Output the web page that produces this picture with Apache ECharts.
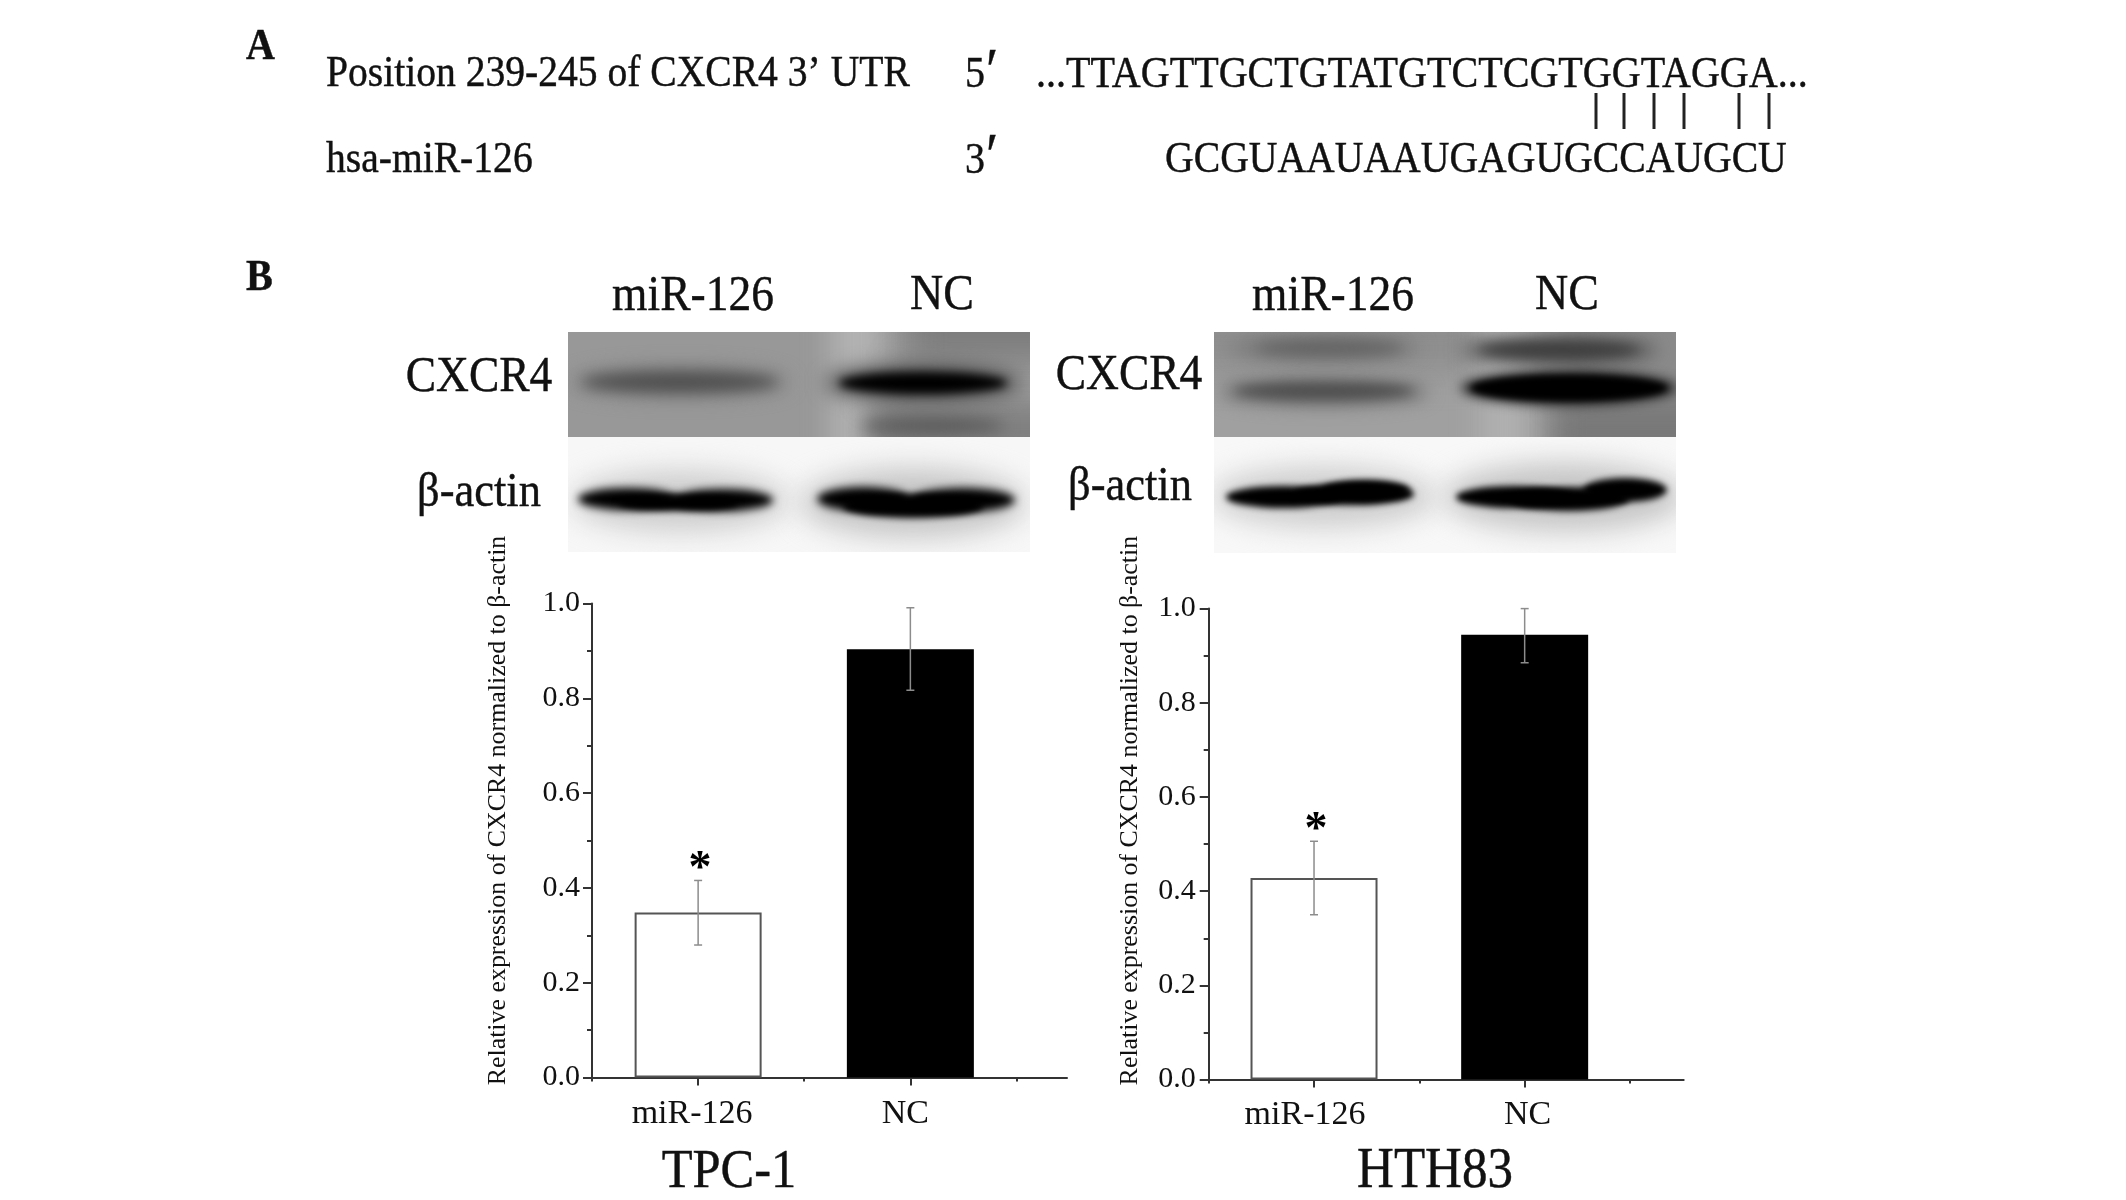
<!DOCTYPE html>
<html>
<head>
<meta charset="utf-8">
<title>CXCR4 miR-126</title>
<style>
  html, body { margin: 0; padding: 0; background: #fff; }
  #main { width: 2126px; height: 1200px; }
</style>
<script src="https://cdn.jsdelivr.net/npm/echarts@6/dist/echarts.min.js"></script>
</head>
<body>
<div id="main"></div>
<script>
// values
var groups = ['miR-126', 'NC']
var groupPos = [0.5, 1.5]
var tpcValues = [0.348, 0.9035]
var tpcLow = [0.2795, 0.817]
var tpcHigh = [0.4157, 0.991]
var hthValues = [0.428, 0.9446]
var hthLow = [0.35, 0.885]
var hthHigh = [0.506, 1.0]
var barFills = ['#ffffff', '#000000']
var barEdges = ['#555555', '#000000']
var significant = [true, false]

var serif = '"Liberation Serif", "Times New Roman", serif'
var yName = 'Relative expression of CXCR4 normalized to \u03b2-actin'

// makes one blot picture on a spare canvas: lanes first, then blurred bands
function blot(w, h, bg, lanes, bands) {
  var c = document.createElement('canvas')
  c.width = w
  c.height = h
  var ctx = c.getContext('2d')
  ctx.fillStyle = bg
  ctx.fillRect(0, 0, w, h)
  lanes.forEach(function (l) {
    ctx.filter = 'blur(' + l[5] + 'px)'
    ctx.fillStyle = l[4]
    ctx.fillRect(l[0], l[1], l[2], l[3])
  })
  bands.forEach(function (b) {
    ctx.filter = 'blur(' + b[5] + 'px)'
    ctx.fillStyle = b[4]
    ctx.beginPath()
    ctx.ellipse(b[0], b[1], b[2], b[3], 0, 0, Math.PI * 2)
    ctx.fill()
  })
  ctx.filter = 'none'
  return c
}

var blotLeftTop = blot(462, 105, '#a0a0a0', [
  [-40, -40, 345, 190, '#989898', 16],
  [262, -40, 55, 190, '#b2b2b2', 14],
  [335, -40, 170, 70, '#7c7c7c', 18],
  [300, 70, 200, 70, '#808080', 14]
], [
  [112, 50, 108, 14, '#7a7a7a', 10],
  [112, 50, 98, 10, '#505050', 7],
  [355, 51, 98, 18, '#505050', 10],
  [355, 51, 84, 11, '#000000', 5],
  [365, 94, 72, 9, '#5a5a5a', 8]
])
var blotLeftBottom = blot(462, 115, '#f7f7f7', [], [
  [112, 64, 108, 30, '#cccccc', 14],
  [345, 66, 112, 34, '#c4c4c4', 14],
  [60, 62, 50, 11, '#000000', 4],
  [155, 63, 50, 11, '#000000', 4],
  [110, 66, 60, 8, '#000000', 3],
  [295, 62, 46, 12, '#000000', 4],
  [395, 63, 52, 12, '#000000', 4],
  [345, 69, 70, 12, '#000000', 3]
])
var blotRightTop = blot(462, 105, '#a0a0a0', [
  [-40, -40, 310, 80, '#8e8e8e', 16],
  [265, -40, 50, 190, '#b0b0b0', 14],
  [340, -40, 170, 190, '#8a8a8a', 16],
  [340, 70, 170, 60, '#787878', 14]
], [
  [110, 16, 96, 12, '#7a7a7a', 9],
  [115, 16, 74, 8, '#636363', 7],
  [345, 18, 98, 13, '#555555', 9],
  [345, 18, 80, 8, '#3e3e3e', 6],
  [110, 60, 104, 13, '#6e6e6e', 9],
  [110, 59, 90, 8, '#4e4e4e', 6],
  [355, 56, 108, 17, '#202020', 6],
  [355, 56, 98, 13, '#000000', 3]
])
var blotRightBottom = blot(462, 116, '#f8f8f8', [], [
  [110, 60, 112, 30, '#cccccc', 14],
  [350, 60, 120, 34, '#c4c4c4', 14],
  [70, 60, 58, 11, '#000000', 3],
  [140, 57, 60, 11, '#000000', 3],
  [152, 53, 44, 10, '#000000', 3],
  [300, 60, 58, 11, '#000000', 3],
  [355, 62, 60, 12, '#000000', 3],
  [411, 53, 42, 12, '#000000', 3]
])

function label(text, x, y, size, opts) {
  opts = opts || {}
  return {
    type: 'text',
    x: x,
    y: y,
    scaleY: 1.1,
    style: {
      text: text,
      x: 0,
      y: 0,
      fill: '#111',
      stroke: '#111',
      lineWidth: 0.4,
      font: (opts.bold ? 'bold ' : '') + size + 'px ' + serif,
      textAlign: opts.align || 'left',
      textVerticalAlign: 'middle'
    },
    z: 10
  }
}

function pairLine(x) {
  return {
    type: 'line',
    shape: { x1: x, y1: 93, x2: x, y2: 129 },
    style: { stroke: '#222', lineWidth: 3 }
  }
}

function picture(canvas, x, y, w, h) {
  return { type: 'image', x: x, y: y, style: { image: canvas, x: 0, y: 0, width: w, height: h }, z: 1 }
}

var graphics = [
  label('A', 246, 48, 40, { bold: true }),
  label('B', 246, 279, 40, { bold: true }),
  label('Position 239-245 of CXCR4 3\u2019 UTR', 326, 75, 39.6),
  label('hsa-miR-126', 326, 161, 39.6),
  label('5', 965, 75, 40),
  label('\u2032', 986, 74, 56),
  label('3', 965, 161, 40),
  label('\u2032', 986, 159, 56),
  label('...TTAGTTGCTGTATGTCTCGTGGTAGGA...', 1036, 75, 40.1),
  label('GCGUAAUAAUGAGUGCCAUGCU', 1165, 161, 39.7),
  pairLine(1596), pairLine(1624), pairLine(1654), pairLine(1684), pairLine(1739), pairLine(1769),

  picture(blotLeftTop, 568, 332, 462, 105),
  picture(blotLeftBottom, 568, 437, 462, 115),
  picture(blotRightTop, 1214, 332, 462, 105),
  picture(blotRightBottom, 1214, 437, 462, 116),

  label('miR-126', 693, 297, 45.5, { align: 'center' }),
  label('NC', 942, 296, 46, { align: 'center' }),
  label('miR-126', 1333, 297, 45.5, { align: 'center' }),
  label('NC', 1567, 296, 46, { align: 'center' }),
  label('CXCR4', 479, 378, 45.5, { align: 'center' }),
  label('CXCR4', 1129, 376, 45.5, { align: 'center' }),
  label('\u03b2-actin', 479, 493, 44.5, { align: 'center' }),
  label('\u03b2-actin', 1130, 487, 44.5, { align: 'center' }),
  label('TPC-1', 729, 1172, 50.5, { align: 'center' }),
  label('HTH83', 1435, 1172, 51, { align: 'center' })
]

function xAxes(gridIndex, max, margin, labelShift) {
  return [{
    type: 'value',
    gridIndex: gridIndex,
    position: 'bottom',
    min: 0,
    max: max,
    axisLine: { onZero: false, lineStyle: { color: '#333', width: 2 } },
    splitLine: { show: false },
    axisTick: { length: 8, lineStyle: { color: '#333', width: 2 }, customValues: groupPos },
    axisLabel: {
      customValues: groupPos,
      margin: margin,
      color: '#111',
      fontFamily: serif,
      fontSize: 34,
      formatter: function (v) {
        return v < 1 ? '{a|' + groups[0] + '}' : '{b|' + groups[1] + '}'
      },
      rich: {
        a: { fontFamily: serif, fontSize: 34, color: '#111', padding: labelShift[0] },
        b: { fontFamily: serif, fontSize: 34, color: '#111', padding: labelShift[1] }
      }
    }
  }, {
    // second axis only for the short ticks between the groups
    type: 'value',
    gridIndex: gridIndex,
    position: 'bottom',
    min: 0,
    max: max,
    axisLine: { show: false },
    splitLine: { show: false },
    axisLabel: { show: false },
    axisTick: { length: 4, lineStyle: { color: '#333', width: 2 }, customValues: [0, 1, 2] }
  }]
}

function yAxis(gridIndex, gap, shift, margin) {
  return {
    type: 'value',
    gridIndex: gridIndex,
    min: 0,
    max: 1,
    interval: 0.2,
    name: yName,
    nameLocation: 'middle',
    nameGap: gap,
    nameRotate: 90,
    nameTextStyle: { fontFamily: serif, fontSize: 25.9, color: '#111', padding: [0, 0, 0, shift] },
    axisLine: { show: true, onZero: false, lineStyle: { color: '#333', width: 2 } },
    axisTick: { show: true, length: 9, lineStyle: { color: '#333', width: 2 } },
    minorTick: { show: true, splitNumber: 2, length: 5, lineStyle: { color: '#333', width: 2 } },
    splitLine: { show: false },
    minorSplitLine: { show: false },
    axisLabel: {
      margin: margin,
      color: '#111',
      fontFamily: serif,
      fontSize: 30,
      formatter: function (v) { return v.toFixed(1) }
    }
  }
}

function barSeries(axisIndex, values) {
  return {
    type: 'bar',
    xAxisIndex: axisIndex,
    yAxisIndex: axisIndex / 2,
    barWidth: 127,
    silent: true,
    data: values.map(function (v, i) {
      return {
        value: [groupPos[i], v],
        itemStyle: { color: barFills[i], borderColor: barEdges[i], borderWidth: 2 }
      }
    }),
    z: 2
  }
}

function errorSeries(axisIndex, low, high) {
  return {
    type: 'custom',
    xAxisIndex: axisIndex,
    yAxisIndex: axisIndex / 2,
    silent: true,
    z: 5,
    encode: { x: 0, y: [1, 2] },
    data: groupPos.map(function (p, i) { return [p, low[i], high[i], significant[i] ? 1 : 0] }),
    renderItem: function (params, api) {
      var lo = api.coord([api.value(0), api.value(1)])
      var hi = api.coord([api.value(0), api.value(2)])
      var style = { stroke: '#8c8c8c', lineWidth: 1.5, fill: null }
      var kids = [
        { type: 'line', shape: { x1: lo[0], y1: lo[1], x2: hi[0], y2: hi[1] }, style: style },
        { type: 'line', shape: { x1: lo[0] - 4, y1: lo[1], x2: lo[0] + 4, y2: lo[1] }, style: style },
        { type: 'line', shape: { x1: hi[0] - 4, y1: hi[1], x2: hi[0] + 4, y2: hi[1] }, style: style }
      ]
      if (api.value(3)) {
        kids.push({
          type: 'text',
          style: {
            text: '*',
            x: hi[0] + 2,
            y: hi[1] - 10,
            fill: '#000',
            font: 'bold 46px ' + serif,
            textAlign: 'center',
            textVerticalAlign: 'middle'
          }
        })
      }
      return { type: 'group', children: kids }
    }
  }
}

var chart = echarts.init(document.getElementById('main'), null, { renderer: 'canvas' })
chart.setOption({
  animation: false,
  backgroundColor: '#ffffff',
  grid: [
    { left: 592, top: 603.5, width: 475, height: 474 },
    { left: 1208.7, top: 608.6, width: 475, height: 471 }
  ],
  xAxis: xAxes(0, 2.238, 20, [[0, 12, 0, 0], [0, 10, 0, 0]]).concat(xAxes(1, 2.255, 18, [[0, 18, 0, 0], [0, 0, 0, 6]])),
  yAxis: [yAxis(0, 81, 60, 12), yAxis(1, 65, 67, 13)],
  series: [
    barSeries(0, tpcValues),
    errorSeries(0, tpcLow, tpcHigh),
    barSeries(2, hthValues),
    errorSeries(2, hthLow, hthHigh)
  ],
  graphic: graphics
})
</script>
</body>
</html>
